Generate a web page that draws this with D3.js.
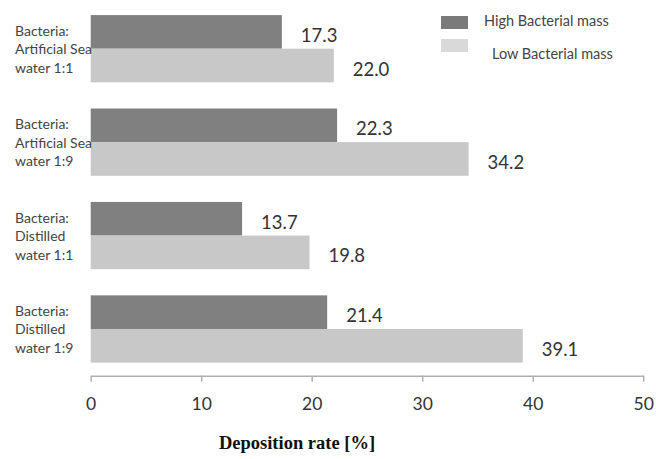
<!DOCTYPE html>
<html>
<head>
<meta charset="utf-8">
<script src="https://cdn.jsdelivr.net/npm/d3@7"></script>
<style>
  html, body { margin: 0; padding: 0; background: #fff; }
  svg { display: block; }
</style>
</head>
<body>
<svg id="chart" width="656" height="459"></svg>
<script>
// Categories (top to bottom), each label split over three lines
const categories = [
  "Bacteria:|Artificial Sea|water 1:1",
  "Bacteria:|Artificial Sea|water 1:9",
  "Bacteria:|Distilled|water 1:1",
  "Bacteria:|Distilled|water 1:9"
];
const seriesNames = ["High Bacterial mass", "Low Bacterial mass"];
const highMass = [17.3, 22.3, 13.7, 21.4];
const lowMass = [22.0, 34.2, 19.8, 39.1];
const xTicks = [0, 10, 20, 30, 40, 50];

const width = 656, height = 459;
const margin = { top: 2, right: 12.8, bottom: 83.3, left: 90.7 };
const colors = ["#808080", "#c8c8c8"];
const legendColors = ["#7a7a7a", "#d9d9d9"];
const sans = "Lato, 'Open Sans', sans-serif";

const svg = d3.select("#chart");

const x = d3.scaleLinear()
  .domain([0, 50])
  .range([margin.left, width - margin.right]);

const y = d3.scaleBand()
  .domain(categories)
  .range([margin.top, height - margin.bottom])
  .paddingInner(0.28)
  .paddingOuter(0.14);

const sub = d3.scaleBand()
  .domain([0, 1])
  .range([0, y.bandwidth()]);

const rows = categories.map((c, i) => ({ cat: c, values: [highMass[i], lowMass[i]] }));

// Bars
const g = svg.append("g");
const groups = g.selectAll("g.group")
  .data(rows)
  .join("g")
  .attr("class", "group")
  .attr("transform", d => `translate(0,${y(d.cat)})`);

groups.selectAll("rect")
  .data(d => d.values.map((v, k) => ({ v, k })))
  .join("rect")
  .attr("x", x(0))
  .attr("y", d => sub(d.k))
  .attr("width", d => x(d.v) - x(0))
  .attr("height", sub.bandwidth())
  .attr("fill", d => colors[d.k]);

// Value labels after each bar
groups.selectAll("text.value")
  .data(d => d.values.map((v, k) => ({ v, k })))
  .join("text")
  .attr("class", "value")
  .attr("x", d => x(d.v) + 19)
  .attr("y", d => sub(d.k) + sub.bandwidth() / 2 + 3)
  .attr("dominant-baseline", "central")
  .attr("font-family", sans)
  .attr("font-size", 18.5)
  .attr("fill", "#333")
  .text(d => d.v.toFixed(1));

// Category labels
groups.each(function(d) {
  const lines = d.cat.split("|");
  const t = d3.select(this).append("text")
    .attr("font-family", sans)
    .attr("font-size", 14)
    .attr("fill", "#444");
  const mid = y.bandwidth() / 2;
  lines.forEach((ln, j) => {
    t.append("tspan")
      .attr("x", 15)
      .attr("y", mid + (j - 1) * 18.5)
      .attr("dominant-baseline", "central")
      .text(ln);
  });
});

// X axis
const axisY = height - margin.bottom;
const axis = svg.append("g")
  .attr("transform", `translate(0,${axisY})`)
  .call(d3.axisBottom(x).tickValues(xTicks).tickSize(6).tickSizeOuter(0).tickPadding(16));
axis.select(".domain").attr("stroke", "#b0b0b0").attr("stroke-width", 1.5);
axis.selectAll(".tick line").attr("stroke", "#b0b0b0").attr("stroke-width", 1.5);
axis.selectAll(".tick text")
  .attr("font-family", sans)
  .attr("font-size", 17.5)
  .attr("fill", "#333");

// Axis title
svg.append("text")
  .attr("x", 297)
  .attr("y", 443)
  .attr("text-anchor", "middle")
  .attr("dominant-baseline", "central")
  .attr("font-family", "'Liberation Serif', 'Times New Roman', serif")
  .attr("font-weight", "bold")
  .attr("font-size", 18.5)
  .attr("fill", "#111")
  .text("Deposition rate [%]");

// Legend
const legend = svg.append("g");
const legendItems = [
  { name: seriesNames[0], color: legendColors[0], y: 16, ty: 20, tx: 484 },
  { name: seriesNames[1], color: legendColors[1], y: 39, ty: 53.5, tx: 492 }
];
legend.selectAll("rect")
  .data(legendItems)
  .join("rect")
  .attr("x", 441)
  .attr("y", d => d.y)
  .attr("width", 27)
  .attr("height", 13)
  .attr("fill", d => d.color);
legend.selectAll("text")
  .data(legendItems)
  .join("text")
  .attr("x", d => d.tx)
  .attr("y", d => d.ty)
  .attr("dominant-baseline", "central")
  .attr("font-family", sans)
  .attr("font-size", 14.5)
  .attr("fill", "#444")
  .text(d => d.name);
</script>
</body>
</html>
